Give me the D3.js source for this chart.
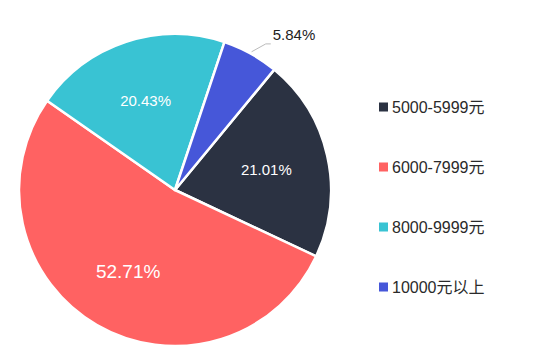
<!DOCTYPE html>
<html>
<head>
<meta charset="utf-8">
<script src="https://cdn.jsdelivr.net/npm/d3@7"></script>
<style>
  body { margin: 0; background: #fff; }
  svg { display: block; font-family: "Helvetica Neue", Arial, "Liberation Sans", "Noto Sans CJK SC", sans-serif; }
</style>
</head>
<body>
<script>
let categories = ["5000-5999元", "6000-7999元", "8000-9999元", "10000元以上"];
let values = [21.01, 52.71, 20.43, 5.84];
let colors = ["#2b3242", "#ff6262", "#39c3d3", "#4657d9"];

let w = 554;
let h = 362;
let cx = 175;
let cy = 190;
let r = 156;

let svg = d3.select("body")
  .append("svg")
  .attr("width", w)
  .attr("height", h);

let pie = d3.pie()
  .sort(null)
  .value(d => d)
  .startAngle(39.5 * Math.PI / 180)
  .endAngle(39.5 * Math.PI / 180 + 2 * Math.PI);

let arcs = pie(values);
let arc = d3.arc().innerRadius(0).outerRadius(r);
let labelArc = d3.arc().innerRadius(r * 0.6).outerRadius(r * 0.6);

let g = svg.append("g").attr("transform", "translate(" + cx + "," + cy + ")");

g.selectAll("path")
  .data(arcs)
  .enter()
  .append("path")
  .attr("d", arc)
  .attr("fill", (d, i) => colors[i])
  .attr("stroke", "#fff")
  .attr("stroke-width", 2.5)
  .attr("stroke-linejoin", "round");

// inside labels for the bigger slices
g.selectAll("text.inside")
  .data(arcs.filter(d => d.value > 10))
  .enter()
  .append("text")
  .attr("class", "inside")
  .attr("transform", d => "translate(" + labelArc.centroid(d) + ")")
  .attr("text-anchor", "middle")
  .attr("dy", "0.35em")
  .attr("fill", "#fff")
  .style("font-size", d => d.value > 50 ? "19px" : "15px")
  .text(d => d.value.toFixed(2) + "%");

// outside label with leader line for the small slice
let small = arcs.filter(d => d.value < 10);
small.forEach(d => {
  let a = (d.startAngle + d.endAngle) / 2;
  let p1 = [Math.sin(a) * (r + 2), -Math.cos(a) * (r + 2)];
  let p2 = [Math.sin(a + 0.05) * (r + 16), -Math.cos(a + 0.05) * (r + 16)];
  let p3 = [p2[0] + 5, p2[1]];
  g.append("polyline")
    .attr("points", [p1, p2, p3].map(p => p.join(",")).join(" "))
    .attr("fill", "none")
    .attr("stroke", "#bbb")
    .attr("stroke-width", 1);
  g.append("text")
    .attr("x", p3[0] + 2)
    .attr("y", p3[1] - 4)
    .attr("fill", "#222")
    .style("font-size", "15px")
    .text(d.value.toFixed(2) + "%");
});

let legend = svg.append("g")
  .selectAll("g")
  .data(categories)
  .enter()
  .append("g")
  .attr("transform", (d, i) => "translate(379," + (107 + i * 60) + ")");

legend.append("rect")
  .attr("x", 0)
  .attr("y", -4.5)
  .attr("width", 9)
  .attr("height", 9)
  .attr("fill", (d, i) => colors[i]);

legend.append("text")
  .attr("x", 13)
  .attr("dy", "0.36em")
  .attr("fill", "#2a2a2a")
  .style("font-size", "16px")
  .text(d => d);
</script>
</body>
</html>
